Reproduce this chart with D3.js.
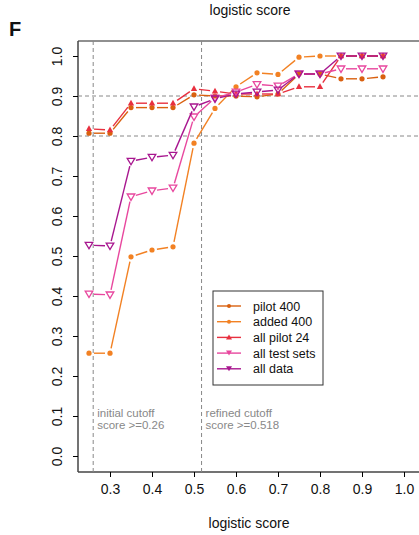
<!DOCTYPE html>
<html><head><meta charset="utf-8">
<script src="https://cdn.jsdelivr.net/npm/d3@7"></script>
<style>body{margin:0;background:#fff}text{font-family:"Liberation Sans",Arial,sans-serif}</style>
</head><body>
<script>
// scores along x
var scores = [0.25,0.3,0.35,0.4,0.45,0.5,0.55,0.6,0.65,0.7,0.75,0.8,0.85,0.9,0.95];
var pilot400   = [0.807,0.807,0.871,0.871,0.871,0.903,0.900,0.900,0.898,0.905,0.955,0.955,0.943,0.943,0.948];
var added400   = [0.257,0.257,0.498,0.515,0.523,0.782,0.869,0.923,0.958,0.954,0.997,1.0,1.0,1.0,1.0];
var allPilot24 = [0.818,0.815,0.882,0.882,0.882,0.918,0.912,0.905,0.905,0.905,0.923,0.923,1.0,1.0,1.0];
var allTest    = [0.405,0.403,0.648,0.663,0.670,0.848,0.895,0.910,0.929,0.925,0.955,0.955,0.968,0.968,0.968];
var allData    = [0.527,0.525,0.737,0.747,0.752,0.873,0.893,0.905,0.910,0.915,0.955,0.955,1.0,1.0,1.0];
var xTicks = [0.3,0.4,0.5,0.6,0.7,0.8,0.9,1.0];
var yTicks = [0,0.1,0.2,0.3,0.4,0.5,0.6,0.7,0.8,0.9,1.0];

var series = [
  {name:"pilot 400", vals:pilot400, color:"#d9600f", sym:"circle"},
  {name:"added 400", vals:added400, color:"#f28123", sym:"circle"},
  {name:"all pilot 24", vals:allPilot24, color:"#e8303f", sym:"tri"},
  {name:"all test sets", vals:allTest, color:"#e8479e", sym:"down"},
  {name:"all data", vals:allData, color:"#a8168f", sym:"down"}
];

var svg = d3.select("body").append("svg").attr("width",419).attr("height",535);
var x = d3.scaleLinear().domain([0.3,1.0]).range([110,404]);
var y = d3.scaleLinear().domain([0,1]).range([456,56]);

// frame
svg.append("line").attr("x1",78).attr("x2",419).attr("y1",41).attr("y2",41).attr("stroke","#222").attr("stroke-width",1.2);
svg.append("line").attr("x1",78).attr("x2",78).attr("y1",41).attr("y2",472).attr("stroke","#444").attr("stroke-width",1.5);
svg.append("line").attr("x1",78).attr("x2",419).attr("y1",472).attr("y2",472).attr("stroke","#444").attr("stroke-width",1.5);

// axes
var xa = svg.append("g").attr("transform","translate(0,472)")
  .call(d3.axisBottom(x).tickValues(xTicks).tickFormat(d3.format(".1f")).tickSize(5).tickSizeOuter(0));
xa.select(".domain").remove();
xa.selectAll("text").attr("font-size",14).attr("fill","#111").attr("dy","1em");
var ya = svg.append("g").attr("transform","translate(78,0)")
  .call(d3.axisLeft(y).tickValues(yTicks).tickFormat(d3.format(".1f")).tickSize(5).tickSizeOuter(0));
ya.select(".domain").remove();
ya.selectAll("text").attr("font-size",14).attr("fill","#111")
  .attr("transform","rotate(-90)").attr("x",0).attr("y",-16).attr("dy","0").attr("text-anchor","middle");

// reference lines
[0.9,0.8].forEach(function(v){
  svg.append("line").attr("x1",78).attr("x2",419).attr("y1",y(v)).attr("y2",y(v))
    .attr("stroke","#888").attr("stroke-dasharray","4,3");
});
[0.26,0.518].forEach(function(v){
  svg.append("line").attr("x1",x(v)).attr("x2",x(v)).attr("y1",41).attr("y2",472)
    .attr("stroke","#888").attr("stroke-dasharray","4,3");
});
svg.append("text").attr("x",x(0.26)+4).attr("y",417).attr("font-size",11.5).attr("fill","#888").text("initial cutoff");
svg.append("text").attr("x",x(0.26)+4).attr("y",429).attr("font-size",11.5).attr("fill","#888").text("score >=0.26");
svg.append("text").attr("x",x(0.518)+4).attr("y",417).attr("font-size",11.5).attr("fill","#888").text("refined cutoff");
svg.append("text").attr("x",x(0.518)+4).attr("y",429).attr("font-size",11.5).attr("fill","#888").text("score >=0.518");

function drawSym(g, s, cx, cy){
  if(s.sym=="circle") g.append("circle").attr("cx",cx).attr("cy",cy).attr("r",2.6).attr("fill",s.color);
  else if(s.sym=="tri") g.append("path").attr("d","M"+cx+","+(cy-3.5)+"L"+(cx+3.2)+","+(cy+2.3)+"L"+(cx-3.2)+","+(cy+2.3)+"Z").attr("fill",s.color);
  else g.append("path").attr("d","M"+(cx-3.8)+","+(cy-2.8)+"L"+(cx+3.8)+","+(cy-2.8)+"L"+cx+","+(cy+3.6)+"Z")
    .attr("fill","none").attr("stroke",s.color).attr("stroke-width",1.3);
}

// series: type "b" lines with gaps around points
var gap = 5;
series.forEach(function(s){
  var g = svg.append("g");
  for(var i=0;i<scores.length-1;i++){
    var x1=x(scores[i]), y1=y(s.vals[i]), x2=x(scores[i+1]), y2=y(s.vals[i+1]);
    var dx=x2-x1, dy=y2-y1, len=Math.sqrt(dx*dx+dy*dy);
    if(len<=2*gap) continue;
    var ux=dx/len, uy=dy/len;
    g.append("line").attr("x1",x1+ux*gap).attr("y1",y1+uy*gap).attr("x2",x2-ux*gap).attr("y2",y2-uy*gap)
      .attr("stroke",s.color).attr("stroke-width",1.4);
  }
  scores.forEach(function(sc,i){ drawSym(g,s,x(sc),y(s.vals[i])); });
});

// legend
var lg = svg.append("g");
lg.append("rect").attr("x",213).attr("y",291).attr("width",110).attr("height",94).attr("fill","#fff").attr("stroke","#333");
series.forEach(function(s,i){
  var ly = 306+i*15.7;
  lg.append("line").attr("x1",217).attr("x2",241).attr("y1",ly).attr("y2",ly).attr("stroke",s.color).attr("stroke-width",1.4);
  if(s.sym=="circle") lg.append("circle").attr("cx",229).attr("cy",ly).attr("r",2).attr("fill",s.color);
  else if(s.sym=="tri") lg.append("path").attr("d","M229,"+(ly-3)+"L232,"+(ly+2)+"L226,"+(ly+2)+"Z").attr("fill",s.color);
  else lg.append("path").attr("d","M226,"+(ly-2.5)+"L232,"+(ly-2.5)+"L229,"+(ly+2.5)+"Z").attr("fill",s.color);
  lg.append("text").attr("x",253).attr("y",ly+4.5).attr("font-size",12.5).attr("fill","#111").text(s.name);
});

// titles
svg.append("text").attr("x",250).attr("y",15).attr("text-anchor","middle").attr("font-size",14).attr("fill","#111").text("logistic score");
svg.append("text").attr("x",249).attr("y",528).attr("text-anchor","middle").attr("font-size",14).attr("fill","#111").text("logistic score");
svg.append("text").attr("x",9).attr("y",36).attr("font-size",20).attr("font-weight","bold").attr("fill","#111").text("F");
</script>
</body></html>
